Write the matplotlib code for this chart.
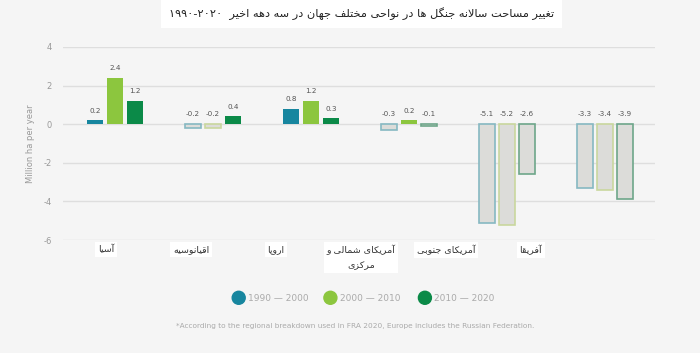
import numpy as np
import matplotlib
matplotlib.use("Agg")
import matplotlib.pyplot as plt
from matplotlib.patches import Circle

# data
regions = ['آسیا', 'اقیانوسیه', 'اروپا', 'آمریکای شمالی و\nمرکزی', 'آمریکای جنوبی', 'آفریقا']
periods = ['1990 — 2000', '2000 — 2010', '2010 — 2020']
v_1990 = [0.2, -0.2, 0.8, -0.3, -5.1, -3.3]
v_2000 = [2.4, -0.2, 1.2, 0.2, -5.2, -3.4]
v_2010 = [1.2, 0.4, 0.3, -0.1, -2.6, -3.9]
yticks = [4, 2, 0, -2, -4, -6]
title = 'تغییر مساحت سالانه جنگل ها در نواحی مختلف جهان در سه دهه اخیر'
title_years = '۱۹۹۰-۲۰۲۰'
footnote = '*According to the regional breakdown used in FRA 2020, Europe includes the Russian Federation.'

colors = ['#17869f', '#8cc63e', '#0b8a48']
neg_edges = ['#86b8c2', '#c9d79e', '#6ea68a']
neg_fill = '#dcdcd9'
bg = '#f5f5f5'

# simple persian shaping: (isolated, final, initial, medial); None = right-joining only
FORMS = {
    'ء': (0xFE80, None, None, None),
    'آ': (0xFE81, 0xFE82, None, None),
    'ا': (0xFE8D, 0xFE8E, None, None),
    'ب': (0xFE8F, 0xFE90, 0xFE91, 0xFE92),
    'پ': (0xFB56, 0xFB57, 0xFB58, 0xFB59),
    'ت': (0xFE95, 0xFE96, 0xFE97, 0xFE98),
    'ث': (0xFE99, 0xFE9A, 0xFE9B, 0xFE9C),
    'ج': (0xFE9D, 0xFE9E, 0xFE9F, 0xFEA0),
    'چ': (0xFB7A, 0xFB7B, 0xFB7C, 0xFB7D),
    'ح': (0xFEA1, 0xFEA2, 0xFEA3, 0xFEA4),
    'خ': (0xFEA5, 0xFEA6, 0xFEA7, 0xFEA8),
    'د': (0xFEA9, 0xFEAA, None, None),
    'ذ': (0xFEAB, 0xFEAC, None, None),
    'ر': (0xFEAD, 0xFEAE, None, None),
    'ز': (0xFEAF, 0xFEB0, None, None),
    'ژ': (0xFB8A, 0xFB8B, None, None),
    'س': (0xFEB1, 0xFEB2, 0xFEB3, 0xFEB4),
    'ش': (0xFEB5, 0xFEB6, 0xFEB7, 0xFEB8),
    'ص': (0xFEB9, 0xFEBA, 0xFEBB, 0xFEBC),
    'ض': (0xFEBD, 0xFEBE, 0xFEBF, 0xFEC0),
    'ط': (0xFEC1, 0xFEC2, 0xFEC3, 0xFEC4),
    'ظ': (0xFEC5, 0xFEC6, 0xFEC7, 0xFEC8),
    'ع': (0xFEC9, 0xFECA, 0xFECB, 0xFECC),
    'غ': (0xFECD, 0xFECE, 0xFECF, 0xFED0),
    'ف': (0xFED1, 0xFED2, 0xFED3, 0xFED4),
    'ق': (0xFED5, 0xFED6, 0xFED7, 0xFED8),
    'ک': (0xFB8E, 0xFB8F, 0xFB90, 0xFB91),
    'گ': (0xFB92, 0xFB93, 0xFB94, 0xFB95),
    'ل': (0xFEDD, 0xFEDE, 0xFEDF, 0xFEE0),
    'م': (0xFEE1, 0xFEE2, 0xFEE3, 0xFEE4),
    'ن': (0xFEE5, 0xFEE6, 0xFEE7, 0xFEE8),
    'ه': (0xFEE9, 0xFEEA, 0xFEEB, 0xFEEC),
    'و': (0xFEED, 0xFEEE, None, None),
    'ی': (0xFBFC, 0xFBFD, 0xFBFE, 0xFBFF),
}


def shape_word(w):
    # lam-alef ligature handled as a right-joining letter
    chars = []
    i = 0
    while i < len(w):
        if w[i] == 'ل' and i + 1 < len(w) and w[i + 1] in 'اآ':
            chars.append('LA' if w[i + 1] == 'ا' else 'LAA')
            i += 2
        else:
            chars.append(w[i])
            i += 1
    out = []
    for k, c in enumerate(chars):
        prev = chars[k - 1] if k > 0 else None
        joins_prev = prev is not None and prev in FORMS and FORMS[prev][2] is not None
        if c in ('LA', 'LAA'):
            iso, fin = (0xFEFB, 0xFEFC) if c == 'LA' else (0xFEF5, 0xFEF6)
            out.append(chr(fin if joins_prev else iso))
            continue
        if c not in FORMS:
            out.append(c)
            continue
        f = FORMS[c]
        nxt = chars[k + 1] if k + 1 < len(chars) else None
        joins_next = f[2] is not None and nxt is not None and \
            (nxt in ('LA', 'LAA') or (nxt in FORMS and FORMS[nxt][1] is not None))
        if joins_prev and joins_next:
            out.append(chr(f[3]))
        elif joins_prev:
            out.append(chr(f[1]))
        elif joins_next:
            out.append(chr(f[2]))
        else:
            out.append(chr(f[0]))
    return ''.join(out)


def fa(text):
    # shape and reverse to visual order, line by line
    lines = []
    for line in text.split('\n'):
        words = [shape_word(w)[::-1] for w in line.split(' ')]
        lines.append(' '.join(words[::-1]))
    return '\n'.join(lines)


plt.rcParams['font.family'] = ['DejaVu Sans']

fig = plt.figure(figsize=(7, 3.53), dpi=100, facecolor=bg)
ax = fig.add_axes([0.09, 0.32, 0.846, 0.547])
ax.set_facecolor(bg)

x = np.arange(len(regions))
w = 0.165
for j, vals in enumerate([v_1990, v_2000, v_2010]):
    xs = x + (j - 1) * 0.204
    for xi, v in zip(xs, vals):
        if v >= 0:
            ax.bar(xi, v, w, color=colors[j], zorder=3)
        else:
            ax.bar(xi, v, w, color=neg_fill, edgecolor=neg_edges[j], linewidth=1.2, zorder=3)
        ax.text(xi, max(v, 0) + 0.35, str(v), ha='center', va='bottom', fontsize=5.2, color='#555555')

ax.set_xlim(-0.53, 5.51)
ax.set_ylim(-6, 4)
ax.set_yticks(yticks)
ax.set_yticklabels([str(t) for t in yticks], fontsize=6, color='#999999')
ax.tick_params(axis='y', length=0, pad=8)
ax.set_xticks([])
ax.grid(axis='y', color='#dedede', linewidth=1, zorder=0)
for s in ax.spines.values():
    s.set_visible(False)
ax.set_ylabel('Million ha per year', fontsize=6, color='#999999', labelpad=6)

# region labels
label_x = -0.09 + 0.866 * np.arange(len(regions))
for lx, r in zip(label_x, regions):
    ax.text(lx, -6.25, fa(r), ha='center', va='top', fontsize=6.8, color='#333333',
            linespacing=1.9, bbox=dict(boxstyle='square,pad=0.3', fc='white', ec='none'),
            clip_on=False)

# title
fig.text(0.517, 0.962, title_years + '  ' + fa(title), ha='center', va='center',
         fontsize=8.2, color='#222222',
         bbox=dict(boxstyle='square,pad=0.7', fc='white', ec='none'))

# legend
leg_x = [0.341, 0.472, 0.607]
for lx, p, c in zip(leg_x, periods, colors):
    fig.patches.append(Circle((lx * 700, 0.155 * 353 + 0.5), 6.5, color=c, transform=None))
    fig.text(lx + 0.013, 0.155, p, ha='left', va='center', fontsize=6.5, color='#aaaaaa')

fig.text(0.507, 0.077, footnote, ha='center', va='center', fontsize=5.3, color='#aaaaaa')

fig.savefig('out.png', dpi=100, facecolor=bg)
